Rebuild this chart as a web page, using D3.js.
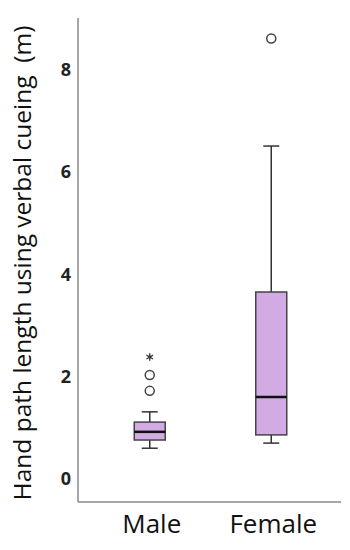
<!DOCTYPE html>
<html>
<head>
	<script src="https://d3js.org/d3.v7.min.js"></script>
	<style type="text/css">
		body { margin: 0; background: #fff; }
		.tick-label { font-family: "Open Sans", sans-serif; font-weight: bold; font-size: 18px; fill: #222; }
		.cat-label { font-family: "Open Sans", sans-serif; font-size: 26px; fill: #111; }
		.y-title { font-family: "Open Sans", sans-serif; font-size: 24.5px; fill: #111; }
	</style>
</head>
<body>
<div id="chart"></div>
<script type="text/javascript">
var groups = ["Male", "Female"];
// five-number summaries
var lowWhisker = [0.60, 0.70];
var q1 = [0.76, 0.86];
var median = [0.92, 1.60];
var q3 = [1.11, 3.65];
var highWhisker = [1.31, 6.50];
var outliers = [[1.72, 2.03], [8.60]];
var extremes = [[2.38], []];
var yTicks = [0, 2, 4, 6, 8];

var svg_width = 350, svg_height = 550;
var svg = d3.select("#chart").append("svg")
	.attr("width", svg_width)
	.attr("height", svg_height);

var y = d3.scaleLinear().domain([-0.45, 9.0]).range([502, 18]);
var x = d3.scalePoint().domain(groups).range([89, 332]).padding(0.5);
var boxW = 31, capW = 16;

// axes lines
svg.append("line")
	.attr("x1", 78).attr("x2", 78)
	.attr("y1", y.range()[1]).attr("y2", y.range()[0])
	.attr("stroke", "#8a8a8a").attr("stroke-width", 1.5);
svg.append("line")
	.attr("x1", 78).attr("x2", 341)
	.attr("y1", y.range()[0]).attr("y2", y.range()[0])
	.attr("stroke", "#8a8a8a").attr("stroke-width", 1.5);

svg.selectAll(".tick-label")
	.data(yTicks)
	.enter().append("text")
	.attr("class", "tick-label")
	.attr("x", 71)
	.attr("y", function(d) { return y(d); })
	.attr("dy", "0.36em")
	.attr("text-anchor", "end")
	.text(function(d) { return d; });

svg.selectAll(".cat-label")
	.data(groups)
	.enter().append("text")
	.attr("class", "cat-label")
	.attr("x", function(d) { return x(d) + 2; })
	.attr("y", 533)
	.attr("text-anchor", "middle")
	.text(function(d) { return d; });

svg.append("text")
	.attr("class", "y-title")
	.attr("transform", "translate(31,263) rotate(-90)")
	.attr("text-anchor", "middle")
	.text("Hand path length using verbal cueing \u00A0(m)");

var box = svg.selectAll(".box")
	.data(groups)
	.enter().append("g")
	.attr("class", "box");

// whiskers
box.append("line")
	.attr("x1", function(d) { return x(d); }).attr("x2", function(d) { return x(d); })
	.attr("y1", function(d, i) { return y(highWhisker[i]); })
	.attr("y2", function(d, i) { return y(lowWhisker[i]); })
	.attr("stroke", "#333").attr("stroke-width", 1.5);
[highWhisker, lowWhisker].forEach(function(arr) {
	box.append("line")
		.attr("x1", function(d) { return x(d) - capW / 2; })
		.attr("x2", function(d) { return x(d) + capW / 2; })
		.attr("y1", function(d, i) { return y(arr[i]); })
		.attr("y2", function(d, i) { return y(arr[i]); })
		.attr("stroke", "#333").attr("stroke-width", 1.5);
});

box.append("rect")
	.attr("x", function(d) { return x(d) - boxW / 2; })
	.attr("width", boxW)
	.attr("y", function(d, i) { return y(q3[i]); })
	.attr("height", function(d, i) { return y(q1[i]) - y(q3[i]); })
	.attr("fill", "#d2aae4")
	.attr("stroke", "#444").attr("stroke-width", 1.5);

box.append("line")
	.attr("x1", function(d) { return x(d) - boxW / 2; })
	.attr("x2", function(d) { return x(d) + boxW / 2; })
	.attr("y1", function(d, i) { return y(median[i]); })
	.attr("y2", function(d, i) { return y(median[i]); })
	.attr("stroke", "#111").attr("stroke-width", 2.5);

box.each(function(d, i) {
	var g = d3.select(this);
	g.selectAll(".out")
		.data(outliers[i])
		.enter().append("circle")
		.attr("cx", x(d))
		.attr("cy", function(v) { return y(v); })
		.attr("r", 4.5)
		.attr("fill", "#fff")
		.attr("stroke", "#444").attr("stroke-width", 1.5);
	g.selectAll(".ext")
		.data(extremes[i])
		.enter().append("path")
		.attr("transform", function(v) { return "translate(" + x(d) + "," + y(v) + ")"; })
		.attr("d", d3.symbol().type(d3.symbolAsterisk).size(40))
		.attr("fill", "none")
		.attr("stroke", "#333").attr("stroke-width", 1.3);
});
</script>
</body>
</html>
